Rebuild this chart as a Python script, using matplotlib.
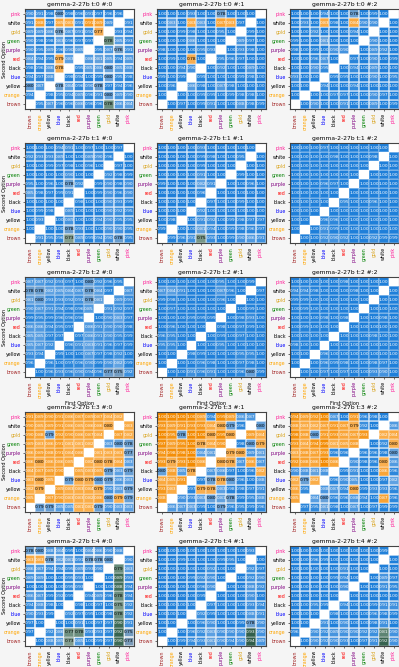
import numpy as np
import matplotlib.pyplot as plt
from matplotlib.colors import LinearSegmentedColormap, Normalize

N = np.nan

# colour names on both axes (left->right, bottom->top)
names = ['brown', 'orange', 'yellow', 'blue', 'black', 'red',
         'purple', 'green', 'gold', 'white', 'pink']
name_colors = {'brown': 'brown', 'orange': 'orange', 'yellow': 'black',
               'blue': 'blue', 'black': 'black', 'red': 'red',
               'purple': 'purple', 'green': 'green', 'gold': 'goldenrod',
               'white': 'black', 'pink': 'deeppink'}

# every matrix is written top row first (pink ... brown), columns brown ... pink
t0_n0 = [
    [0.90, 0.91, 0.98, 0.80, 0.98, 0.96, 0.91, 0.97, 0.96, 0.96, N],
    [0.91, 0.88, 0.97, 0.85, 0.83, 0.91, 0.91, 0.89, 0.89, N, 0.91],
    [0.89, 0.89, 0.86, 0.76, 0.87, 0.91, 0.92, 0.77, N, 0.93, 0.94],
    [0.90, 0.98, 0.98, 0.83, 0.96, 0.97, 0.97, N, 0.78, 0.85, 0.93],
    [0.90, 0.95, 0.89, 0.96, 0.90, 0.85, N, 0.95, 0.87, 0.76, 0.91],
    [0.84, 0.94, 0.95, 0.79, 0.83, N, 0.86, 0.81, 0.85, 0.94, 0.85],
    [0.98, 0.96, 0.86, 0.78, N, 0.95, 0.85, 0.86, 0.80, 0.85, 0.88],
    [0.94, 0.97, 0.88, N, 0.98, 0.94, 1.00, 0.99, 0.80, 0.95, 0.98],
    [0.80, 0.87, N, 0.78, 0.84, 0.96, 0.90, 0.78, 0.97, 0.94, 0.96],
    [0.94, N, 0.98, 0.95, 0.94, 0.89, 0.96, 0.91, 0.80, 0.89, 0.90],
    [N, 0.95, 0.87, 0.96, 0.96, 0.86, 0.96, 0.96, 0.78, 0.86, 0.84],
]
t0_n0_cat = ["bbbbbbbbbbx", "bobooboobxb", "bbbbbbboxbb", "bbbbbbbxgbb",
             "bbbbbbxbbbb", "bbbobxbbbbb", "bbboxbbbbbb", "bbbxbbbbbbb",
             "bbxbbbbbbbb", "bxbbbbbbbbb", "xbbbbbbbgbb"]

t0_n1 = [
    [1.00, 1.00, 1.00, 0.93, 1.00, 1.00, 0.78, 1.00, 1.00, 1.00, N],
    [1.00, 0.83, 1.00, 0.83, 0.83, 1.00, 0.87, 0.83, 0.97, N, 1.00],
    [1.00, 1.00, 0.99, 0.98, 1.00, 1.00, 0.95, 1.00, N, 0.99, 1.00],
    [1.00, 1.00, 1.00, 0.86, 1.00, 1.00, 1.00, N, 0.89, 0.97, 1.00],
    [0.98, 1.00, 1.00, 1.00, 0.95, 0.93, N, 1.00, 0.93, 0.98, 1.00],
    [1.00, 0.99, 1.00, 0.78, 1.00, N, 0.95, 0.96, 0.97, 1.00, 1.00],
    [1.00, 1.00, 0.94, 0.90, N, 1.00, 0.92, 1.00, 1.00, 0.89, 1.00],
    [0.99, 1.00, 0.99, N, 0.99, 1.00, 1.00, 1.00, 0.99, 0.98, 1.00],
    [1.00, 0.96, N, 0.86, 0.98, 1.00, 0.87, 0.98, 1.00, 1.00, 1.00],
    [1.00, N, 1.00, 1.00, 0.99, 0.99, 1.00, 0.99, 0.98, 0.98, 1.00],
    [N, 1.00, 0.97, 1.00, 0.99, 0.91, 1.00, 1.00, 0.88, 0.98, 0.99],
]
t0_n1_cat = ["bbbbbbbbbbx", "bbbobboobxb", "bbbbbbbbxbb", "bbbbbbbxbbb",
             "bbbbbbxbbbb", "bbbobxbbbbb", "bbbbxbbbbbb", "bbbxbbbbbbb",
             "bbxbbbbbbbb", "bxbbbbbbbbb", "xbbbbbbbbbb"]

t0_n2 = [
    [1.00, 1.00, 1.00, 0.94, 1.00, 1.00, 0.78, 1.00, 0.99, 1.00, N],
    [1.00, 0.93, 1.00, 0.83, 0.98, 1.00, 0.84, 0.90, 0.90, N, 1.00],
    [1.00, 1.00, 0.92, 1.00, 1.00, 1.00, 0.94, 1.00, N, 1.00, 1.00],
    [0.99, 1.00, 1.00, 0.81, 1.00, 1.00, 1.00, N, 0.90, 1.00, 1.00],
    [0.98, 1.00, 0.99, 1.00, 0.90, 0.90, N, 1.00, 0.89, 0.92, 1.00],
    [1.00, 1.00, 0.96, 0.87, 1.00, N, 0.97, 1.00, 0.90, 1.00, 0.99],
    [1.00, 1.00, 0.90, 0.95, N, 1.00, 0.94, 1.00, 0.89, 1.00, 1.00],
    [0.93, 1.00, 1.00, N, 0.99, 0.99, 1.00, 1.00, 0.90, 1.00, 0.95],
    [1.00, 1.00, N, 0.94, 1.00, 1.00, 0.94, 1.00, 1.00, 1.00, 1.00],
    [1.00, N, 1.00, 1.00, 0.97, 0.97, 1.00, 1.00, 0.90, 0.97, 1.00],
    [N, 1.00, 0.90, 1.00, 1.00, 0.91, 1.00, 1.00, 0.89, 1.00, 0.99],
]
t0_n2_cat = ["bbbbbbbbbbx", "bbbobbobbxb", "bbbbbbbbxbb", "bbbbbbbxbbb",
             "bbbbbbxbbbb", "bbbbbxbbbbb", "bbbbxbbbbbb", "bbbxbbbbbbb",
             "bbxbbbbbbbb", "bxbbbbbbbbb", "xbbbbbbbbbb"]

t1_n0 = [
    [1.00, 1.00, 1.00, 0.94, 0.91, 1.00, 0.97, 1.00, 1.00, 0.97, N],
    [0.92, 0.93, 0.93, 0.89, 1.00, 1.00, 0.89, 0.90, 0.96, N, 1.00],
    [1.00, 1.00, 0.99, 0.97, 0.98, 1.00, 0.96, 1.00, N, 0.97, 1.00],
    [1.00, 1.00, 1.00, 1.00, 0.90, 1.00, 1.00, N, 0.92, 0.98, 0.99],
    [0.95, 1.00, 0.96, 1.00, 0.78, 0.92, N, 0.99, 0.90, 0.98, 0.90],
    [0.85, 0.98, 0.97, 0.99, 0.91, N, 1.00, 0.99, 0.90, 0.96, 0.90],
    [1.00, 1.00, 1.00, 1.00, N, 0.98, 1.00, 1.00, 0.90, 0.93, 0.99],
    [1.00, 0.99, 0.98, N, 0.89, 1.00, 1.00, 1.00, 0.90, 0.92, 0.95],
    [1.00, 0.93, N, 1.00, 0.89, 1.00, 1.00, 0.94, 0.90, 0.95, 0.95],
    [1.00, N, 1.00, 1.00, 0.78, 0.93, 1.00, 1.00, 0.90, 0.90, 0.95],
    [N, 0.91, 0.95, 0.96, 0.73, 0.89, 0.99, 0.94, 0.90, 0.78, 0.95],
]
t1_n0_cat = ["bbbbbbbbbbx", "bbbbbbbbbxb", "bbbbbbbbxbb", "bbbbbbbxbbb",
             "bbbbbbxbbbb", "bbbbbxbbbbb", "bbbbxbbbbbb", "bbbxbbbbbbb",
             "bbxbbbbbbbb", "bxbbbbbbbbb", "xbbbgbbbbbb"]

t1_n1 = [
    [1.00, 1.00, 1.00, 1.00, 0.93, 1.00, 1.00, 1.00, 1.00, 1.00, N],
    [1.00, 1.00, 1.00, 1.00, 0.99, 0.98, 1.00, 1.00, 0.95, N, 1.00],
    [1.00, 1.00, 1.00, 1.00, 0.99, 1.00, 1.00, 1.00, N, 1.00, 1.00],
    [1.00, 1.00, 1.00, 1.00, 0.91, 1.00, 1.00, N, 0.99, 1.00, 1.00],
    [0.99, 1.00, 1.00, 1.00, 0.82, 0.91, N, 1.00, 1.00, 0.96, 1.00],
    [1.00, 1.00, 1.00, 1.00, 0.96, N, 1.00, 1.00, 1.00, 1.00, 1.00],
    [1.00, 1.00, 1.00, 1.00, N, 0.97, 1.00, 1.00, 0.99, 1.00, 1.00],
    [1.00, 1.00, 1.00, N, 0.92, 1.00, 1.00, 1.00, 1.00, 1.00, 1.00],
    [1.00, 0.98, N, 1.00, 0.91, 0.92, 1.00, 0.99, 0.98, 0.97, 0.97],
    [0.99, N, 1.00, 1.00, 0.81, 0.94, 1.00, 0.99, 0.98, 0.96, 0.97],
    [N, 0.99, 0.96, 0.91, 0.75, 0.93, 1.00, 0.99, 0.90, 0.86, 0.91],
]
t1_n1_cat = t1_n0_cat

t1_n2 = [
    [1.00, 1.00, 1.00, 0.97, 1.00, 1.00, 1.00, 1.00, 1.00, 1.00, N],
    [1.00, 1.00, 1.00, 1.00, 0.98, 1.00, 1.00, 1.00, 0.98, N, 1.00],
    [1.00, 1.00, 1.00, 1.00, 1.00, 1.00, 1.00, 1.00, N, 1.00, 1.00],
    [1.00, 1.00, 1.00, 1.00, 1.00, 1.00, 1.00, N, 1.00, 1.00, 1.00],
    [1.00, 1.00, 1.00, 0.96, 0.97, 1.00, N, 1.00, 1.00, 1.00, 1.00],
    [1.00, 1.00, 1.00, 1.00, 1.00, N, 1.00, 1.00, 1.00, 1.00, 1.00],
    [1.00, 1.00, 1.00, 1.00, N, 0.95, 1.00, 1.00, 0.96, 1.00, 1.00],
    [1.00, 1.00, 1.00, N, 1.00, 1.00, 1.00, 1.00, 1.00, 1.00, 1.00],
    [1.00, 1.00, N, 0.96, 0.96, 1.00, 1.00, 1.00, 1.00, 1.00, 1.00],
    [1.00, N, 1.00, 0.91, 0.99, 1.00, 1.00, 1.00, 1.00, 1.00, 1.00],
    [N, 1.00, 1.00, 0.92, 0.90, 0.92, 1.00, 1.00, 0.92, 0.99, 0.99],
]

t2_n0 = [
    [0.87, 0.87, 0.92, 0.93, 0.97, 1.00, 0.80, 0.92, 0.96, 0.95, N],
    [0.78, 0.78, 0.82, 0.85, 0.84, 0.87, 0.78, 0.84, 0.97, N, 0.87],
    [0.81, 0.80, 0.93, 0.93, 0.92, 0.91, 0.78, 0.81, N, 0.89, 0.93],
    [0.90, 0.87, 0.91, 0.94, 0.98, 0.96, 0.85, N, 0.91, 0.92, 0.97],
    [0.99, 0.95, 0.99, 0.96, 0.96, 0.96, N, 1.00, 0.90, 0.83, 0.97],
    [0.86, 0.86, 0.94, 0.95, 0.97, N, 0.86, 0.91, 0.90, 0.90, 0.98],
    [0.85, 0.85, 0.97, 0.97, N, 0.97, 0.86, 0.91, 0.90, 0.95, 0.99],
    [0.85, 0.87, 0.92, N, 0.96, 0.91, 0.83, 0.91, 0.96, 0.97, 0.99],
    [0.93, 0.94, N, 0.99, 1.00, 1.00, 0.87, 0.97, 0.98, 0.92, 1.00],
    [0.96, N, 0.96, 1.00, 0.97, 0.96, 0.90, 0.99, 0.90, 0.82, 0.99],
    [N, 1.00, 0.96, 0.93, 0.96, 0.90, 0.94, 0.96, 0.77, 0.75, 0.92],
]

t2_n1 = [
    [1.00, 1.00, 1.00, 1.00, 1.00, 1.00, 0.95, 1.00, 1.00, 0.99, N],
    [0.87, 0.84, 0.91, 1.00, 1.00, 1.00, 0.87, 0.96, 1.00, N, 0.97],
    [0.99, 0.98, 1.00, 1.00, 1.00, 1.00, 0.96, 1.00, N, 1.00, 1.00],
    [1.00, 0.97, 1.00, 1.00, 1.00, 1.00, 1.00, N, 1.00, 0.99, 1.00],
    [1.00, 1.00, 1.00, 0.99, 0.99, 0.99, N, 1.00, 0.98, 0.93, 1.00],
    [1.00, 0.96, 1.00, 1.00, 1.00, N, 0.98, 1.00, 0.97, 0.99, 1.00],
    [0.96, 0.95, 1.00, 1.00, N, 1.00, 0.99, 1.00, 0.97, 1.00, 1.00],
    [0.95, 0.95, 1.00, N, 1.00, 1.00, 0.95, 1.00, 1.00, 1.00, 1.00],
    [1.00, 1.00, N, 0.98, 0.99, 1.00, 1.00, 1.00, 0.95, 0.95, 1.00],
    [1.00, N, 1.00, 1.00, 0.96, 0.98, 1.00, 1.00, 0.97, 0.98, 1.00],
    [N, 1.00, 1.00, 0.91, 0.96, 0.91, 1.00, 1.00, 0.96, 0.80, 0.99],
]

t2_n2 = [
    [1.00, 1.00, 1.00, 1.00, 1.00, 0.98, 1.00, 1.00, 1.00, 1.00, N],
    [0.94, 0.94, 0.98, 1.00, 1.00, 1.00, 0.98, 1.00, 1.00, N, 1.00],
    [0.99, 0.99, 1.00, 1.00, 1.00, 1.00, 1.00, 1.00, N, 1.00, 1.00],
    [1.00, 0.99, 1.00, 1.00, 1.00, 1.00, 1.00, N, 1.00, 1.00, 1.00],
    [1.00, 1.00, 1.00, 0.98, 1.00, 0.98, N, 1.00, 1.00, 0.98, 1.00],
    [1.00, 0.99, 1.00, 1.00, 1.00, N, 1.00, 1.00, 1.00, 1.00, 1.00],
    [1.00, 1.00, 1.00, 1.00, N, 1.00, 1.00, 1.00, 0.98, 1.00, 1.00],
    [0.98, 1.00, 1.00, N, 1.00, 1.00, 1.00, 1.00, 1.00, 1.00, 1.00],
    [1.00, 1.00, N, 0.96, 1.00, 1.00, 1.00, 1.00, 1.00, 1.00, 1.00],
    [1.00, N, 1.00, 0.96, 0.99, 0.98, 1.00, 1.00, 0.98, 0.97, 1.00],
    [N, 1.00, 1.00, 0.97, 1.00, 0.97, 1.00, 1.00, 0.93, 0.90, 1.00],
]

t3_n0 = [
    [0.91, 0.89, 0.90, 0.91, 0.86, 0.87, 0.89, 0.87, 0.84, 0.82, N],
    [0.90, 0.85, 0.89, 0.91, 0.86, 0.85, 0.86, 0.86, 0.80, N, 0.83],
    [0.90, 0.88, 0.79, 0.92, 0.90, 0.86, 0.87, 0.84, N, 0.87, 0.82],
    [0.89, 0.83, 0.86, 0.91, 0.81, 0.81, 0.82, N, 0.83, 0.80, 0.78],
    [0.86, 0.89, 0.88, 0.91, 0.84, 0.86, N, 0.81, 0.83, 0.83, 0.77],
    [0.86, 0.80, 0.86, 0.86, 0.85, N, 0.82, 0.80, 0.78, 0.84, 0.83],
    [0.84, 0.87, 0.89, 0.90, N, 0.85, 0.83, 0.85, 0.79, 0.83, 0.79],
    [0.83, 0.80, 0.85, N, 0.79, 0.80, 0.79, 0.80, 0.79, 0.86, 0.83],
    [0.82, 0.79, N, 0.89, 0.83, 0.83, 0.84, 0.79, 0.90, 0.83, 0.79],
    [0.85, N, 0.87, 0.90, 0.83, 0.83, 0.82, 0.86, 0.80, 0.79, 0.79],
    [N, 0.79, 0.79, 0.85, 0.85, 0.81, 0.81, 0.79, 0.90, 0.83, 0.83],
]
t3_n0_cat = ["oooooooooox", "oooooooooxo", "ooboooooxoo", "oooooooxbbb",
             "ooooooxooob", "oooooxoooob", "ooooxooobbb", "oooxboobbbb",
             "ooxooooobbb", "oxoooooobob", "xbbbboobbbb"]

t3_n1 = [
    [1.00, 1.00, 1.00, 1.00, 0.89, 0.94, 0.99, 0.89, 0.86, 0.87, N],
    [0.93, 0.89, 0.91, 0.93, 0.93, 0.84, 0.80, 0.79, 0.96, N, 0.80],
    [1.00, 0.95, 0.78, 1.00, 1.00, 0.80, 0.99, 0.80, N, 0.89, 0.84],
    [0.97, 0.89, 0.95, 1.00, 0.78, 0.84, 0.90, N, 0.98, 0.80, 0.79],
    [0.94, 0.98, 0.98, 1.00, 0.84, 0.81, N, 0.79, 0.80, 0.89, 0.81],
    [0.93, 0.79, 0.93, 1.00, 0.86, N, 0.80, 0.78, 0.87, 0.86, 0.87],
    [0.80, 0.88, 0.85, 0.78, N, 0.87, 0.86, 0.97, 1.00, 0.96, 0.82],
    [0.84, 0.85, 0.91, N, 0.97, 0.78, 0.78, 0.80, 0.96, 1.00, 0.88],
    [0.93, 0.83, N, 0.97, 0.79, 0.78, 0.83, 0.98, 0.98, 0.97, 0.91],
    [0.88, N, 0.90, 0.93, 0.83, 0.80, 0.81, 0.78, 0.99, 0.95, 0.88],
    [N, 0.86, 0.87, 0.83, 0.99, 1.00, 0.79, 0.96, 0.95, 0.99, 0.96],
]
t3_n1_cat = ["oooooboobbx", "ooooooobbxb", "ooboooooxoo", "oooooooxbbo",
             "oooobbxoobb", "oooooxoobob", "boboxbbbbbo", "oooxbbobbbb",
             "ooxboobbbbb", "oxbbbbbbbbb", "xbbbbbbbbbb"]

t3_n2 = [
    [0.94, 0.89, 0.92, 1.00, 0.87, 1.00, 0.91, 0.96, 0.98, 1.00, N],
    [0.88, 0.83, 0.82, 0.87, 0.91, 0.87, 0.79, 0.92, 1.00, N, 0.86],
    [0.98, 0.88, 0.80, 0.91, 0.93, 0.86, 0.87, 0.93, N, 0.82, 0.84],
    [0.93, 0.84, 0.94, 0.99, 0.81, 0.85, 0.88, N, 1.00, 0.92, 0.80],
    [0.83, 0.88, 0.87, 0.93, 0.96, 0.96, N, 0.96, 0.96, 0.98, 0.80],
    [0.92, 0.88, 0.86, 1.00, 0.86, N, 0.90, 0.98, 0.96, 0.80, 0.86],
    [0.90, 0.88, 0.81, 0.88, N, 0.99, 0.91, 1.00, 1.00, 0.86, 0.96],
    [0.82, 0.79, 0.82, N, 0.96, 0.90, 0.85, 1.00, 1.00, 0.97, 0.82],
    [0.86, 0.95, N, 0.88, 0.87, 0.94, 0.80, 0.99, 0.93, 0.93, 0.96],
    [0.85, N, 0.84, 0.80, 0.96, 0.96, 0.88, 0.94, 1.00, 0.87, 0.96],
    [N, 0.97, 0.95, 0.81, 0.98, 1.00, 0.87, 1.00, 0.97, 0.99, 0.99],
]
t3_n2_cat = ["oooobbobbbx", "ooooooobbxb", "ooboooooxoo", "oooooooxbbo",
             "oooobbxbbbb", "oooooxbbbob", "bbbbxbbbbob", "oboxbbbbbbb",
             "obxbbbobbbb", "oxbbbbbbbob", "xbbbbbbbbbb"]

t4_n0 = [
    [0.78, 0.80, 0.88, 0.84, 0.99, 1.00, 0.84, 0.86, 0.90, 0.88, N],
    [0.83, 0.83, 0.78, 0.82, 0.81, 0.91, 0.78, 0.78, 0.80, N, 0.90],
    [0.86, 0.87, 0.94, 0.94, 0.95, 0.89, 0.93, 0.90, N, 0.79, 0.83],
    [0.89, 0.89, 1.00, 1.00, 0.95, 0.93, 1.00, N, 1.00, 0.89, 0.93],
    [1.00, 1.00, 1.00, 1.00, 0.95, 0.93, N, 1.00, 1.00, 0.88, 0.94],
    [0.86, 0.87, 0.99, 0.92, 0.99, N, 0.94, 0.89, 0.96, 0.78, 0.94],
    [0.94, 0.88, 0.98, 1.00, N, 0.98, 1.00, 0.97, 1.00, 0.75, 0.92],
    [0.90, 0.93, 0.99, N, 0.92, 0.97, 0.99, 1.00, 0.98, 0.78, 0.92],
    [0.97, 1.00, N, 1.00, 1.00, 0.91, 1.00, 0.97, 0.97, 0.90, 0.91],
    [0.97, N, 0.92, 0.86, 0.77, 0.78, 0.93, 0.93, 0.97, 0.92, 0.75],
    [N, 1.00, 0.88, 0.85, 0.73, 0.85, 1.00, 0.99, 0.97, 0.90, 0.73],
]
t4_n0_cat = ["bbbbbbbbbbx", "oobbbbbbbxb", "bbbbbbbbxgb", "bbbbbbbxbgb",
             "bbbbbbxbbgb", "bbbbbxbbbgb", "bbbbxbbbbgb", "bbbxbbbbbgb",
             "bbxbbbbbbgb", "bxbbggbbbgb", "xbbbgbbbbgb"]

t4_n1 = [
    [1.00, 1.00, 1.00, 1.00, 1.00, 1.00, 1.00, 1.00, 1.00, 0.93, N],
    [1.00, 1.00, 0.99, 1.00, 1.00, 1.00, 0.99, 0.95, 1.00, N, 1.00],
    [1.00, 1.00, 1.00, 1.00, 1.00, 0.92, 1.00, 1.00, N, 0.92, 0.97],
    [1.00, 1.00, 1.00, 0.99, 0.92, 0.90, 1.00, N, 1.00, 0.92, 0.90],
    [1.00, 1.00, 1.00, 1.00, 0.96, 0.90, N, 1.00, 1.00, 0.88, 0.92],
    [1.00, 1.00, 1.00, 1.00, 0.99, N, 1.00, 1.00, 1.00, 0.90, 1.00],
    [1.00, 1.00, 1.00, 1.00, N, 0.97, 1.00, 1.00, 1.00, 0.93, 0.94],
    [1.00, 1.00, 1.00, N, 0.92, 0.99, 1.00, 1.00, 1.00, 0.88, 0.91],
    [1.00, 1.00, N, 1.00, 0.96, 0.90, 1.00, 1.00, 0.99, 0.78, 0.90],
    [1.00, N, 1.00, 0.96, 0.92, 0.83, 0.90, 0.90, 0.90, 0.93, 0.90],
    [N, 1.00, 0.99, 0.94, 0.93, 0.81, 0.90, 0.94, 0.90, 0.94, 0.89],
]
t4_n1_cat = ["bbbbbbbbbbx", "bbbbbbbbbxb", "bbbbbbbbxbb", "bbbbbbbxbbb",
             "bbbbbbxbbbb", "bbbbbxbbbbb", "bbbbxbbbbbb", "bbbxbbbbbbb",
             "bbxbbbbbbbb", "bxbbbbbbbgb", "xbbbbbbbbgb"]

t4_n2 = [
    [1.00, 1.00, 1.00, 1.00, 1.00, 1.00, 1.00, 1.00, 1.00, 0.99, N],
    [1.00, 1.00, 0.96, 0.99, 1.00, 1.00, 1.00, 1.00, 1.00, N, 1.00],
    [1.00, 1.00, 1.00, 1.00, 1.00, 0.91, 1.00, 1.00, N, 1.00, 1.00],
    [1.00, 1.00, 1.00, 1.00, 0.99, 0.94, 1.00, N, 1.00, 0.89, 0.97],
    [1.00, 1.00, 1.00, 1.00, 1.00, 0.90, N, 1.00, 1.00, 0.91, 0.95],
    [1.00, 1.00, 1.00, 1.00, 1.00, N, 1.00, 1.00, 1.00, 1.00, 1.00],
    [1.00, 1.00, 0.95, 0.99, N, 0.94, 1.00, 1.00, 0.99, 0.91, 0.91],
    [1.00, 1.00, 1.00, N, 0.98, 1.00, 1.00, 1.00, 0.96, 0.98, 0.99],
    [1.00, 1.00, N, 0.91, 1.00, 0.90, 1.00, 1.00, 0.98, 0.91, 1.00],
    [0.96, N, 0.90, 0.92, 0.89, 0.90, 0.90, 0.92, 0.92, 0.81, 0.90],
    [N, 1.00, 0.90, 0.92, 0.90, 0.93, 1.00, 0.97, 0.91, 0.92, 0.90],
]
t4_n2_cat = t4_n1_cat

panels = [
    [(t0_n0, t0_n0_cat), (t0_n1, t0_n1_cat), (t0_n2, t0_n2_cat)],
    [(t1_n0, t1_n0_cat), (t1_n1, t1_n1_cat), (t1_n2, None)],
    [(t2_n0, None), (t2_n1, None), (t2_n2, None)],
    [(t3_n0, t3_n0_cat), (t3_n1, t3_n1_cat), (t3_n2, t3_n2_cat)],
    [(t4_n0, t4_n0_cat), (t4_n1, t4_n1_cat), (t4_n2, t4_n2_cat)],
]

cmaps = {
    'b': LinearSegmentedColormap.from_list('b', [(0, '#8197aa'), (0.4, '#5fa2e2'), (1, '#1f7fd9')]),
    'o': LinearSegmentedColormap.from_list('o', [(0, '#e0a25e'), (0.35, '#fbb04e'), (1, '#f38a00')]),
    'g': LinearSegmentedColormap.from_list('g', [(0, '#8ea69a'), (0.5, '#4b7864'), (1, '#1d4a38')]),
}
norm = Normalize(vmin=0.7, vmax=1.0)

W, H = 399, 667
fig = plt.figure(figsize=(W / 100, H / 100), dpi=100, facecolor='#f5f5f5')

col_left = [25, 157, 290]
row_top = [9, 143, 277, 412, 546]
pw, ph = 108.5, 100

for r, row in enumerate(panels):
    for c, (vals, cats) in enumerate(row):
        ax = fig.add_axes([col_left[c] / W, (H - row_top[r] - ph) / H, pw / W, ph / H])
        ax.set_facecolor('white')
        z = np.array(vals, dtype=float)[::-1]
        if cats is None:
            cat = np.full(z.shape, 'b')
        else:
            cat = np.array([list(s) for s in cats])[::-1]
        for key, cm in cmaps.items():
            m = np.ma.masked_where((cat != key) | np.isnan(z), z)
            if m.count() == 0:
                continue
            ax.pcolormesh(m, cmap=cm, norm=norm, edgecolors=(1, 1, 1, 0.22), linewidth=0.3)
        for i in range(11):
            for j in range(11):
                v = z[i, j]
                if np.isnan(v):
                    continue
                ax.text(j + 0.5, i + 0.5, f'{v:.2f}', ha='center', va='center',
                        fontsize=3.2, color='black' if v <= 0.80 else 'white')
        ax.set_xlim(0, 11)
        ax.set_ylim(0, 11)
        ax.set_xticks(np.arange(11) + 0.5)
        ax.set_xticklabels(names, rotation=90, fontsize=3.4)
        ax.set_yticks(np.arange(11) + 0.5)
        ax.set_yticklabels(names, fontsize=3.4)
        for lab in ax.get_xticklabels() + ax.get_yticklabels():
            lab.set_color(name_colors[lab.get_text()])
        ax.tick_params(length=1.5, width=0.4, pad=1.5)
        for s in ax.spines.values():
            s.set_color('#444444')
            s.set_linewidth(0.8)
        ax.set_title(f'gemma-2-27b t:{r} #:{c}', fontsize=4.3, pad=2)
        if c == 0:
            ax.set_ylabel('Second Option', fontsize=3.6)
            ax.yaxis.set_label_coords(-0.17, 0.5)
        if r == 2:
            ax.set_xlabel('First Option', fontsize=3.6, labelpad=2)

fig.savefig('out.png', dpi=100, facecolor=fig.get_facecolor())
